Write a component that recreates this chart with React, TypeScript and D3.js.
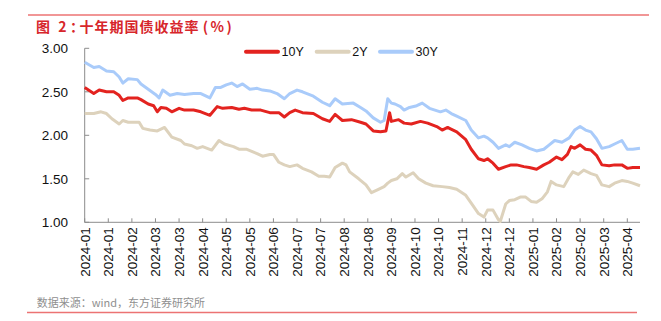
import React from "react";
import * as d3 from "d3";

// trading-day index (0 = 2024-01-02 ... 306 = 2025-04 end), yield %
const tenY: [number, number][] = [
  [0, 2.55], [5, 2.48], [8, 2.52], [12, 2.5], [16, 2.5], [19, 2.46], [21, 2.4], [24, 2.43], [29, 2.43], [31, 2.41],
  [35, 2.36], [38, 2.34], [40, 2.27], [42, 2.32], [45, 2.31], [48, 2.27], [52, 2.31], [55, 2.29], [60, 2.29], [64, 2.27],
  [69, 2.23], [73, 2.33], [76, 2.31], [81, 2.32], [85, 2.3], [88, 2.31], [92, 2.29], [97, 2.29], [102, 2.26], [107, 2.26],
  [110, 2.21], [113, 2.26], [116, 2.29], [120, 2.26], [126, 2.25], [131, 2.19], [135, 2.16], [138, 2.24], [142, 2.17], [147, 2.18],
  [152, 2.15], [155, 2.13], [159, 2.05], [163, 2.04], [166, 2.05], [168, 2.26], [169, 2.16], [173, 2.18], [176, 2.14], [180, 2.13],
  [185, 2.16], [189, 2.14], [194, 2.1], [197, 2.06], [200, 2.09], [201, 2.08], [205, 2.04], [210, 1.95], [213, 1.84], [217, 1.73],
  [220, 1.71], [222, 1.73], [225, 1.68], [228, 1.61], [232, 1.64], [235, 1.66], [238, 1.66], [242, 1.64], [245, 1.63], [249, 1.61],
  [253, 1.66], [256, 1.69], [260, 1.75], [263, 1.72], [266, 1.78], [268, 1.87], [270, 1.85], [273, 1.89], [276, 1.84], [279, 1.83],
  [282, 1.77], [285, 1.66], [289, 1.65], [292, 1.66], [296, 1.66], [299, 1.62], [302, 1.63], [306, 1.63],
];

const twoY: [number, number][] = [
  [0, 2.25], [5, 2.25], [9, 2.27], [12, 2.25], [15, 2.19], [19, 2.13], [21, 2.17], [24, 2.15], [30, 2.15], [32, 2.08],
  [36, 2.06], [40, 2.05], [44, 2.09], [48, 1.98], [53, 1.94], [55, 1.9], [59, 1.88], [62, 1.85], [65, 1.87], [70, 1.83],
  [74, 1.94], [77, 1.9], [82, 1.87], [85, 1.84], [89, 1.84], [95, 1.79], [98, 1.76], [102, 1.78], [104, 1.78], [107, 1.69],
  [110, 1.66], [113, 1.64], [117, 1.66], [120, 1.62], [125, 1.58], [129, 1.53], [132, 1.53], [135, 1.52], [138, 1.63], [142, 1.68],
  [144, 1.66], [146, 1.58], [151, 1.5], [155, 1.43], [158, 1.34], [161, 1.37], [165, 1.41], [167, 1.45], [169, 1.48], [172, 1.5],
  [175, 1.56], [177, 1.52], [181, 1.57], [184, 1.5], [188, 1.45], [192, 1.42], [197, 1.41], [201, 1.4], [205, 1.38], [210, 1.31],
  [213, 1.22], [217, 1.1], [220, 1.06], [222, 1.14], [225, 1.14], [228, 1.03], [229, 1.01], [232, 1.21], [234, 1.25], [237, 1.26],
  [240, 1.29], [243, 1.29], [246, 1.24], [249, 1.23], [252, 1.27], [255, 1.35], [257, 1.47], [260, 1.43], [264, 1.41], [267, 1.52],
  [269, 1.58], [272, 1.55], [275, 1.6], [279, 1.56], [282, 1.54], [285, 1.43], [289, 1.41], [292, 1.45], [296, 1.48], [299, 1.47],
  [302, 1.45], [306, 1.42],
];

const thirtyY: [number, number][] = [
  [0, 2.84], [5, 2.78], [8, 2.79], [12, 2.74], [16, 2.73], [19, 2.67], [21, 2.6], [24, 2.65], [29, 2.64], [31, 2.59],
  [35, 2.53], [39, 2.47], [41, 2.43], [43, 2.52], [47, 2.46], [51, 2.48], [55, 2.47], [60, 2.48], [64, 2.48], [69, 2.43],
  [72, 2.55], [75, 2.55], [78, 2.58], [81, 2.6], [84, 2.56], [87, 2.59], [91, 2.53], [95, 2.54], [98, 2.52], [102, 2.51],
  [106, 2.48], [110, 2.42], [113, 2.48], [117, 2.52], [120, 2.5], [126, 2.45], [131, 2.38], [135, 2.34], [138, 2.42], [142, 2.36],
  [148, 2.37], [152, 2.32], [155, 2.28], [159, 2.2], [163, 2.15], [165, 2.17], [167, 2.42], [169, 2.37], [171, 2.36], [174, 2.33],
  [176, 2.29], [179, 2.32], [183, 2.34], [186, 2.37], [190, 2.31], [196, 2.27], [199, 2.29], [202, 2.25], [205, 2.22], [210, 2.17],
  [213, 2.06], [217, 1.97], [220, 1.99], [222, 1.97], [225, 1.92], [228, 1.85], [232, 1.89], [234, 1.87], [237, 1.92], [241, 1.89],
  [245, 1.85], [249, 1.82], [253, 1.84], [256, 1.89], [259, 1.94], [263, 1.92], [267, 1.97], [270, 2.06], [273, 2.1], [276, 2.06],
  [279, 2.04], [282, 1.96], [285, 1.85], [289, 1.87], [292, 1.9], [296, 1.94], [299, 1.84], [302, 1.84], [306, 1.85],
];

const tickLabels = [
  "2024-01", "2024-01", "2024-02", "2024-03", "2024-03", "2024-04", "2024-05", "2024-05",
  "2024-06", "2024-07", "2024-07", "2024-08", "2024-08", "2024-09", "2024-10", "2024-10",
  "2024-11", "2024-12", "2024-12", "2025-01", "2025-02", "2025-02", "2025-03", "2025-04",
];
const tickEvery = 13;
const yTicks = [1.0, 1.5, 2.0, 2.5, 3.0];

const series = [
  { name: "10Y", data: tenY, color: "#E3231F" },
  { name: "2Y", data: twoY, color: "#DDD2BC" },
  { name: "30Y", data: thirtyY, color: "#A9CBFA" },
];

const W = 661;
const H = 321;
const left = 84.7;
const right = 640;
const top = 48.3;
const bottom = 222.3;
const numFont = '"Liberation Sans", Arial, sans-serif';
const cjkFont = '"Noto Sans CJK SC", sans-serif';

export default function App() {
  const x = d3.scaleLinear().domain([0, 306]).range([left, right]);
  const y = d3.scaleLinear().domain([1, 3]).range([bottom, top]);
  const line = d3
    .line<[number, number]>()
    .x((d) => x(d[0]))
    .y((d) => y(d[1]));
  const drawOrder = [series[1], series[2], series[0]];
  const legendX = [246, 316.7, 380];
  return (
    <svg
      width={W}
      height={H}
      style={{ position: "absolute", left: 0, top: 0, background: "#fff" }}
    >
      <line x1={28} x2={649} y1={15} y2={15} stroke="#EC7373" strokeWidth={1.5} />
      <text y={32} fill="#D7262B" fontSize={14} fontWeight="bold" fontFamily={cjkFont}>
        <tspan x={36}>图</tspan>
        <tspan x={62.3} textAnchor="middle">2</tspan>
        <tspan x={70} letterSpacing={-4.5}>：</tspan>
        <tspan letterSpacing={1}>十年期国债收益率</tspan>
        <tspan x={205.5} textAnchor="middle">(</tspan>
        <tspan x={217.3} textAnchor="middle">%</tspan>
        <tspan x={229.2} textAnchor="middle">)</tspan>
      </text>

      {/* y axis */}
      <line x1={left} x2={left} y1={top} y2={bottom} stroke="#8C8C8C" strokeWidth={1} />
      {yTicks.map((t) => (
        <g key={t}>
          <line x1={left} x2={left + 4.5} y1={y(t)} y2={y(t)} stroke="#8C8C8C" />
          <text
            x={68}
            y={y(t)}
            dy="0.36em"
            textAnchor="end"
            fontSize={13.5}
            fontFamily={numFont}
            fill="#111"
          >
            {t.toFixed(2)}
          </text>
        </g>
      ))}

      {/* x axis */}
      <line x1={left} x2={right} y1={bottom} y2={bottom} stroke="#8C8C8C" strokeWidth={1} />
      {tickLabels.map((lab, i) => {
        const xp = x(i * tickEvery);
        return (
          <g key={i}>
            <line x1={xp} x2={xp} y1={bottom} y2={bottom - 4} stroke="#8C8C8C" />
            <text
              transform={`translate(${xp},${bottom + 5}) rotate(-90)`}
              dy="0.36em"
              textAnchor="end"
              fontSize={13.5}
              fontFamily={numFont}
              fill="#111"
            >
              {lab}
            </text>
          </g>
        );
      })}

      {drawOrder.map((s) => (
        <path
          key={s.name}
          d={line(s.data) || ""}
          fill="none"
          stroke={s.color}
          strokeWidth={3}
          strokeLinejoin="round"
        />
      ))}

      {/* legend */}
      {series.map((s, i) => (
        <g key={s.name}>
          <line
            x1={legendX[i]}
            x2={legendX[i] + 32}
            y1={51.7}
            y2={51.7}
            stroke={s.color}
            strokeWidth={4}
            strokeLinecap="round"
          />
          <text
            x={legendX[i] + 35.5}
            y={51.7}
            dy="0.36em"
            fontSize={12.5}
            fontFamily={numFont}
            fill="#111"
          >
            {s.name}
          </text>
        </g>
      ))}

      <text x={36.7} y={306.5} fill="#8F8F8F" fontSize={11} fontFamily={cjkFont}>
        数据来源：wind，东方证券研究所
      </text>
      <line x1={27} x2={637} y1={312.5} y2={312.5} stroke="#EC7373" strokeWidth={1.5} />
    </svg>
  );
}
